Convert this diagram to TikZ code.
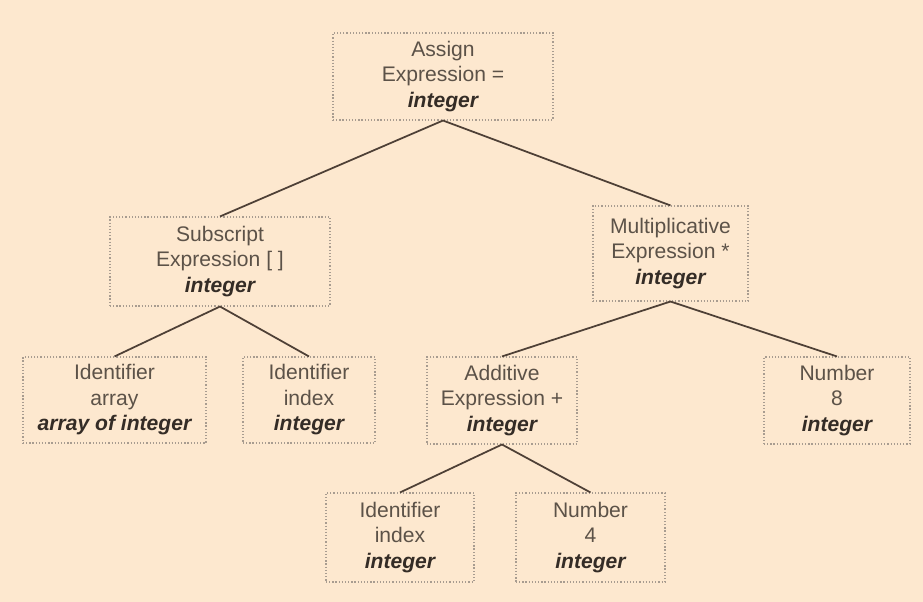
\documentclass[tikz,border=0pt]{standalone}
\usepackage{fontspec}
\setmainfont{Liberation Sans}
\usepackage{xcolor}
\usepackage{tikz}
\usetikzlibrary{positioning}
\definecolor{PaperBg}{RGB}{253, 232, 207}
\definecolor{Ink}{RGB}{92, 82, 72}
\definecolor{TypeInk}{RGB}{52, 44, 38}
\definecolor{Frame}{RGB}{168, 156, 144}
\definecolor{Branch}{RGB}{78, 64, 54}
\newcommand{\ty}[1]{\textbf{\textit{\color{TypeInk}#1}}}

\tikzset{
  treenode/.style={draw=Frame, line width=0.6pt, dash pattern=on 0.7pt off 1.1pt,
    text=Ink, align=center, inner sep=0pt,
    font=\fontsize{12}{14.5}\selectfont},
  branch/.style={draw=Branch, line width=1pt}
}

\begin{document}
\begin{tikzpicture}
\fill[PaperBg] (0,0) rectangle (18.46,12.04);
\useasboundingbox (0,0) rectangle (18.46,12.04);
% upper levels
\node[treenode, minimum width=4.40cm, minimum height=1.74cm] (assign) at (8.86,10.51) {Assign\\Expression =\\\ty{integer}};
\node[treenode, minimum width=4.40cm, minimum height=1.78cm] (subscript) at (4.40,6.81) {Subscript\\Expression [ ]\\\ty{integer}};
\node[treenode, minimum width=3.10cm, minimum height=1.90cm] (mult) at (13.41,6.97) {Multiplicative\\Expression *\\\ty{integer}};
% third level
\node[treenode, minimum width=3.66cm, minimum height=1.72cm] (identarray) at (2.29,4.04) {Identifier\\array\\\ty{array of integer}};
\node[treenode, minimum width=2.64cm, minimum height=1.72cm] (identindex) at (6.18,4.04) {Identifier\\index\\\ty{integer}};
\node[treenode, minimum width=3.00cm, minimum height=1.74cm] (additive) at (10.04,4.03) {Additive\\Expression +\\\ty{integer}};
\node[treenode, minimum width=2.92cm, minimum height=1.74cm] (numeight) at (16.74,4.03) {Number\\8\\\ty{integer}};
% bottom level
\node[treenode, minimum width=2.96cm, minimum height=1.78cm] (addindex) at (8.00,1.29) {Identifier\\index\\\ty{integer}};
\node[treenode, minimum width=2.98cm, minimum height=1.78cm] (numfour) at (11.81,1.29) {Number\\4\\\ty{integer}};

\draw[branch] (subscript.north) -- (assign.south) -- (mult.north);
\draw[branch] (identarray.north) -- (subscript.south) -- (identindex.north);
\draw[branch] (additive.north) -- (mult.south) -- (numeight.north);
\draw[branch] (addindex.north) -- (additive.south) -- (numfour.north);
\end{tikzpicture}
\end{document}
